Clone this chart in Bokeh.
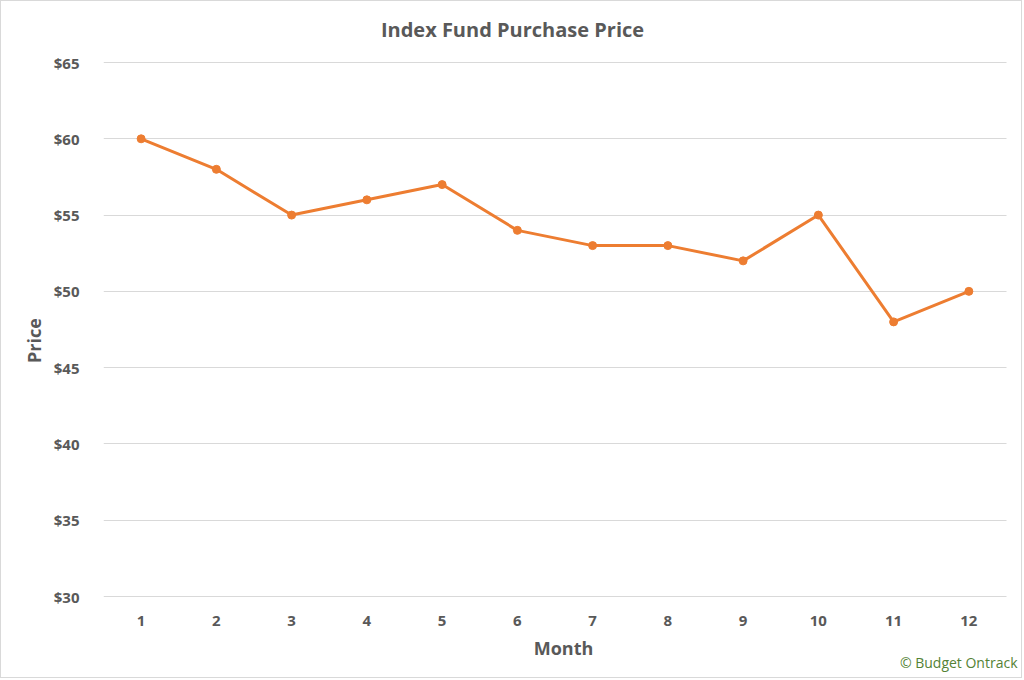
from bokeh.plotting import figure
from bokeh.models import FixedTicker, NumeralTickFormatter, Label, Range1d
from bokeh.embed import file_html
from bokeh.resources import INLINE

months = [1, 2, 3, 4, 5, 6, 7, 8, 9, 10, 11, 12]
prices = [60, 58, 55, 56, 57, 54, 53, 53, 52, 55, 48, 50]
y_ticks = [30, 35, 40, 45, 50, 55, 60, 65]

FONT = "Open Sans"
GRAY = "#595959"
ORANGE = "#ED7D31"

# frame spans the canvas; $30..$65 at page y 596..62, months 0.5..12.5 at page x 103..1006
p = figure(width=1022, height=678, output_backend="svg", toolbar_location=None,
           x_range=Range1d(0.5, 12.726), y_range=Range1d(24.56, 69.0),
           min_border_left=102, min_border_right=0, min_border_top=0, min_border_bottom=0)
p.styles = {"border": "1px solid #d9d9d9"}
p.outline_line_color = None
p.background_fill_color = "white"

p.line(months, prices, line_color=ORANGE, line_width=3)
p.scatter(months, prices, size=8, fill_color=ORANGE, line_color=ORANGE)

p.xgrid.grid_line_color = None
p.ygrid.grid_line_color = "#d9d9d9"
p.ygrid.grid_line_width = 1
grid = p.ygrid[0]
if "cross_bounds" in grid.properties():
    grid.cross_bounds = (0.5, 12.5)

p.yaxis.ticker = FixedTicker(ticks=y_ticks)
p.yaxis.formatter = NumeralTickFormatter(format="$0")
p.xaxis.ticker = FixedTicker(ticks=months)
p.xaxis.fixed_location = y_ticks[0]

for ax in (p.xaxis[0], p.yaxis[0]):
    ax.axis_line_color = None
    ax.major_tick_line_color = None
    ax.minor_tick_line_color = None
    ax.major_label_text_font = FONT
    ax.major_label_text_font_size = "15px"
    ax.major_label_text_font_style = "bold"
    ax.major_label_text_color = GRAY
    ax.axis_label_text_font = FONT
    ax.axis_label_text_font_size = "18px"
    ax.axis_label_text_font_style = "bold"
    ax.axis_label_text_color = GRAY

p.xaxis.axis_label = "Month"
p.yaxis.axis_label = "Price"
p.xaxis.major_label_standoff = 13
p.xaxis.axis_label_standoff = 7
p.yaxis.major_label_standoff = 18

title = Label(x=409, y=650, x_units="screen", y_units="screen",
              text="Index Fund Purchase Price", text_align="center", text_baseline="middle",
              text_font=FONT, text_font_size="20px", text_font_style="bold",
              text_color=GRAY)
p.add_layout(title)

credit = Label(x=914, y=17, x_units="screen", y_units="screen",
               text="© Budget Ontrack", text_align="right", text_baseline="middle",
               text_font=FONT, text_font_size="14px", text_color="#548235")
p.add_layout(credit)

open("out.html", "w").write(file_html(p, INLINE))
